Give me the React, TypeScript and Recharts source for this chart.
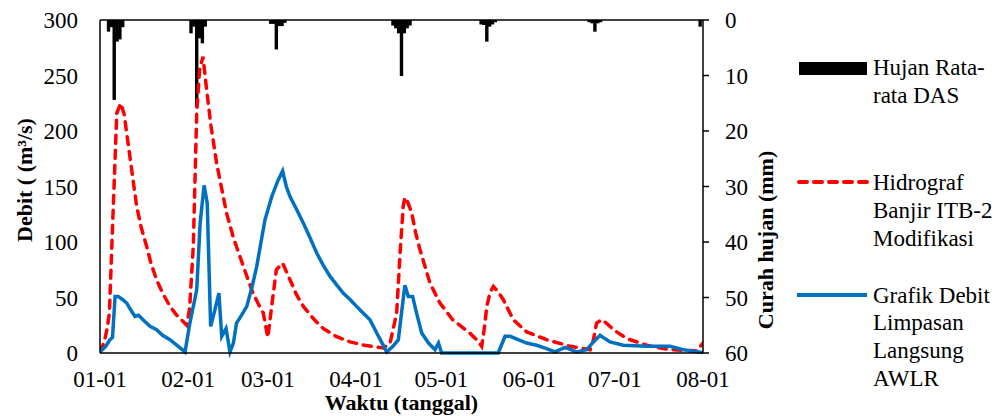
import React from 'react';
import { ComposedChart, Bar, Line, XAxis, YAxis, ReferenceLine, Label } from 'recharts';

// x = day index counted from 1 January (0 = 01-01, 212 = 08-01)
const dayTicks = [0, 31, 59, 90, 120, 151, 181, 212];
const dayTickLabels = ['01-01', '02-01', '03-01', '04-01', '05-01', '06-01', '07-01', '08-01'];
const debitTicks = [0, 50, 100, 150, 200, 250, 300];
const rainTicks = [0, 10, 20, 30, 40, 50, 60];

// Hujan Rata-rata DAS (mm)
const rainDays = [3, 4, 5, 6, 7, 8, 32, 33, 34, 35, 36, 37, 60, 61, 62, 63, 64, 65, 103, 104, 105, 106, 107, 108, 109, 134, 135, 136, 137, 138, 139, 172, 173, 174, 175, 176, 211];
const rainMm = [2.1, 1.3, 14.4, 3.9, 3.5, 1.3, 2.4, 1.2, 15.7, 3.3, 4.2, 1.2, 0.7, 0.7, 5.3, 1.1, 1.1, 0.5, 1.0, 1.5, 2.4, 10.1, 2.4, 1.5, 1.0, 0.8, 0.9, 3.9, 1.2, 0.8, 0.4, 0.4, 0.6, 2.1, 0.6, 0.4, 1.2];

// Hidrograf Banjir ITB-2 Modifikasi (m3/s)
const itbDays = [0, 1.5, 2.5, 3.3, 4.5, 5.9, 7.3, 8.5, 10.5, 12.9, 14.5, 16.4, 18, 19.9, 22, 24.6, 27, 30.5, 31.5, 32.8, 34, 35, 36.2, 37.5, 39, 41, 44.5, 47, 49.2, 51.5, 53.8, 55.5, 57.4, 59, 60.5, 62, 64.2, 66.8, 69, 71.5, 75, 78.5, 83, 87.9, 93, 99.6, 102, 104.3, 105.5, 106.6, 107.2, 108.2, 109.6, 111, 112.5, 116, 119.5, 124, 130, 132.4, 134.2, 135, 136, 137.2, 138.3, 140, 141.8, 145.3, 150, 157, 165.3, 172.3, 173.5, 174.6, 176.4, 178, 180.5, 185.2, 192.2, 200.4, 209.8, 212];
const itbFlow = [1, 10, 22, 36, 120, 216, 225, 215, 177, 132, 113, 96, 80, 66, 54, 42, 34, 25, 40, 96, 216, 255, 267, 237, 205, 171, 126, 103, 87, 70, 54, 45, 36, 14, 45, 75, 81, 66, 53, 42, 31, 22, 15, 10, 7, 4.5, 9, 36, 90, 132, 140, 136, 126, 108, 93, 63, 45, 30, 18, 12, 6, 20, 42, 55, 60, 55, 48, 30, 19, 12, 6, 3, 12, 27, 30, 27, 21, 13, 7, 3, 2, 9];

// Grafik Debit Limpasan Langsung AWLR (m3/s)
const awlrDays = [0, 2, 3.5, 4.4, 5.3, 6.4, 8, 9.4, 11, 12.3, 13.5, 15.5, 17.6, 19.9, 22, 24.6, 27.5, 29.9, 31.6, 34, 35.2, 36.6, 37.7, 38.9, 40.4, 41.8, 42.8, 44.3, 45.7, 46.9, 48, 50, 51.6, 53.5, 55.1, 58, 60.4, 62.5, 64.2, 65.5, 66.8, 69, 71.5, 74, 76.2, 78.5, 80.9, 83, 85.5, 88, 90.2, 92.5, 94.9, 97.3, 100.8, 103, 104.9, 106, 107.2, 108.4, 109.9, 111.3, 113.1, 115.5, 117.8, 119, 120.1, 140, 142.4, 144.2, 147, 150, 153.5, 157, 160, 163.5, 167.6, 171.1, 173.5, 175.8, 177.5, 179.3, 184, 192.2, 200.4, 205, 212];
const awlrFlow = [1, 6, 12, 14, 51, 51, 48, 45, 38, 33, 34, 29, 24, 21, 16, 12, 6, 1, 27, 57, 117, 151, 135, 24, 39, 54, 15, 22, 1, 9, 27, 35, 42, 60, 78, 120, 141, 155, 164, 150, 141, 130, 117, 103, 90, 79, 69, 62, 54, 48, 42, 36, 30, 18, 1, 6, 12, 36, 61, 51, 51, 36, 18, 9, 3, 9, 0, 0, 15, 15, 12, 9, 7, 4, 1, 5, 1, 3, 10, 16, 13, 10, 7, 6, 6, 3, 0.5];

const rainData = rainDays.map((d, i) => ({ d, rain: rainMm[i] }));
const itbData = itbDays.map((d, i) => ({ d, itb: itbFlow[i] }));
const awlrData = awlrDays.map((d, i) => ({ d, awlr: awlrFlow[i] }));

const FONT = '"Liberation Serif", "Times New Roman", serif';
const tickStyle = { fontFamily: FONT, fontSize: 23, fill: '#000', style: { fontFamily: FONT } };
const RED = '#FF0000';
const BLUE = '#0070C0';
const DAY_W = 3.4;

const RainBar = (p: any) => {
  if (!p || p.height == null || !isFinite(p.height)) return null;
  const cx = p.x + p.width / 2;
  const h = Math.abs(p.height);
  const y = p.height < 0 ? p.y + p.height : p.y;
  return <rect x={cx - DAY_W / 2} y={y} width={DAY_W} height={h} fill="#000" />;
};

const LegendBox = () => {
  const t = { fontFamily: FONT, fontSize: 23, fill: '#000' } as React.CSSProperties;
  return (
    <svg width={200} height={400} style={{ position: 'absolute', left: 789, top: 0, overflow: 'visible' }}>
      <rect x={2} y={54} width={68} height={13} fill="#000" />
      <text x={76} y={67} style={t}>Hujan Rata-</text>
      <text x={76} y={95} style={t}>rata DAS</text>
      <line x1={2} x2={70} y1={174} y2={174} stroke={RED} strokeWidth={4} strokeDasharray="8 7" strokeLinecap="round" />
      <text x={76} y={182} style={t}>Hidrograf</text>
      <text x={76} y={210} style={t}>Banjir ITB-2</text>
      <text x={76} y={238} style={t}>Modifikasi</text>
      <line x1={0} x2={70} y1={287} y2={287} stroke={BLUE} strokeWidth={4} />
      <text x={76} y={295} style={t}>Grafik Debit</text>
      <text x={76} y={322} style={t}>Limpasan</text>
      <text x={76} y={350} style={t}>Langsung</text>
      <text x={76} y={378} style={t}>AWLR</text>
    </svg>
  );
};

export default function App() {
  return (
    <div style={{ width: 993, height: 408, position: 'relative', fontFamily: FONT }}>
      <ComposedChart width={993} height={408} data={rainData} margin={{ top: 12, right: 198, bottom: 0, left: 0 }} style={{ fontFamily: FONT }}>
        <XAxis
          dataKey="d"
          type="number"
          domain={[0, 212]}
          ticks={dayTicks}
          tickFormatter={(v: number) => dayTickLabels[dayTicks.indexOf(v)] ?? ''}
          tick={tickStyle}
          tickLine={false}
          tickSize={6}
          tickMargin={12}
          axisLine={{ stroke: '#000', strokeWidth: 1.5 }}
          height={63}
          interval={0}
          allowDataOverflow
        >
          <Label
            value="Waktu (tanggal)"
            position="insideBottom"
            offset={6}
            style={{ fontFamily: FONT, fontSize: 22, fontWeight: 'bold', fill: '#000' }}
          />
        </XAxis>
        <YAxis
          yAxisId="left"
          domain={[0, 300]}
          ticks={debitTicks}
          tick={tickStyle}
          tickLine={false}
          tickSize={6}
          tickMargin={16}
          width={92}
          axisLine={{ stroke: '#000', strokeWidth: 1.5 }}
          interval={0}
        >
          <Label
            content={() => (
              <text
                x={16}
                y={172}
                transform="rotate(-90 16 172)"
                textAnchor="middle"
                dominantBaseline="central"
                style={{ fontFamily: FONT, fontSize: 22, fontWeight: 'bold', fill: '#000' }}
              >
                Debit ( (m³/s)
              </text>
            )}
          />
        </YAxis>
        <YAxis
          yAxisId="right"
          orientation="right"
          reversed
          domain={[0, 60]}
          ticks={rainTicks}
          tick={{ ...tickStyle, textAnchor: 'start' }}
          tickLine={{ stroke: '#000', strokeWidth: 1.5 }}
          tickSize={6}
          tickMargin={16}
          width={100}
          axisLine={{ stroke: '#000', strokeWidth: 1.5 }}
          interval={0}
        >
          <Label
            content={() => (
              <text
                x={757}
                y={232}
                transform="rotate(-90 757 232)"
                textAnchor="middle"
                dominantBaseline="central"
                style={{ fontFamily: FONT, fontSize: 22, fontWeight: 'bold', fill: '#000' }}
              >
                Curah hujan (mm)
              </text>
            )}
          />
        </YAxis>
        <ReferenceLine yAxisId="left" y={300} stroke="#000" strokeWidth={1.5} />
        <Bar yAxisId="right" dataKey="rain" fill="#000" barSize={3} shape={RainBar} isAnimationActive={false} />
        <Line
          yAxisId="left"
          data={itbData}
          dataKey="itb"
          type="linear"
          stroke={RED}
          strokeWidth={3.5}
          strokeDasharray="8 7"
          strokeLinecap="round"
          dot={false}
          activeDot={false}
          isAnimationActive={false}
        />
        <Line
          yAxisId="left"
          data={awlrData}
          dataKey="awlr"
          type="linear"
          stroke={BLUE}
          strokeWidth={3.5}
          dot={false}
          activeDot={false}
          isAnimationActive={false}
        />
      </ComposedChart>
      <LegendBox />
    </div>
  );
}
